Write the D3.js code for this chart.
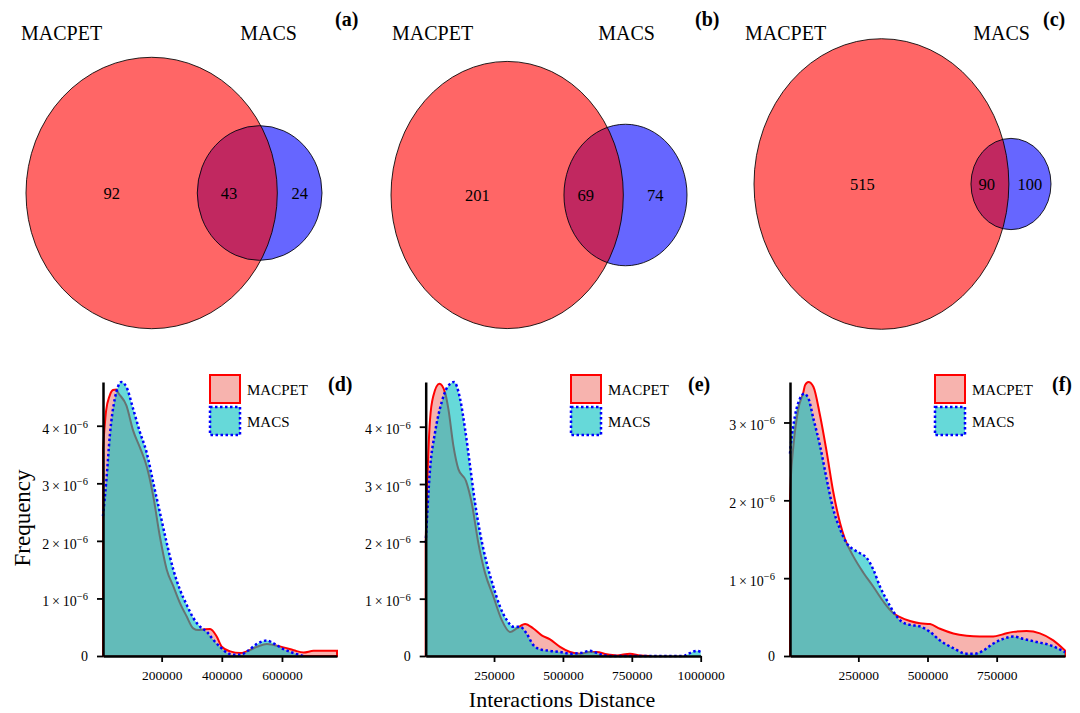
<!doctype html>
<html>
<head>
<meta charset="UTF-8">
<title>venn-kde</title>
<script src="https://d3js.org/d3.v7.min.js"></script>
<style>
    body{margin:0;background:#fff;}
    svg text{font-family:"Liberation Serif","Times New Roman",serif;fill:#000;}
</style>
</head>
<body>
<svg id="chart" width="1080" height="713"></svg>
<script>
// ---------- data ----------
var setNames = ["MACPET", "MACS"];
var tags = ["(a)", "(b)", "(c)", "(d)", "(e)", "(f)"];

// venn counts: [MACPET only, both, MACS only]
var vennA = [92, 43, 24];
var vennB = [201, 69, 74];
var vennC = [515, 90, 100];

// density curves: x = interaction distance (bp), y = frequency (x 1e-6)
var dMacpetX = [5000, 15000, 27000, 38000, 50000, 55000, 83000, 105000, 128000, 150000, 172000, 194000, 217000, 239000, 261000, 283000, 305000, 322000, 339000, 361000, 383000, 400000, 428000, 461000, 483000, 517000, 550000, 572000, 605000, 639000, 672000, 705000, 739000, 783000];
var dMacpetY = [3.60, 4.25, 4.52, 4.62, 4.63, 4.58, 4.35, 3.92, 3.62, 3.30, 2.78, 2.08, 1.50, 1.21, 0.92, 0.69, 0.48, 0.45, 0.46, 0.47, 0.34, 0.16, 0.08, 0.05, 0.08, 0.16, 0.21, 0.19, 0.15, 0.10, 0.06, 0.09, 0.09, 0.09];
var dMacsX = [5000, 16500, 27700, 44300, 66500, 83200, 105400, 127700, 149900, 172100, 194300, 216600, 238800, 261000, 283200, 305400, 327700, 350000, 372000, 394000, 416000, 439000, 461000, 489000, 517000, 550000, 572000, 605000, 639000, 672000];
var dMacsY = [2.43, 3.07, 3.83, 4.47, 4.76, 4.67, 4.29, 3.89, 3.54, 3.01, 2.49, 1.97, 1.50, 1.15, 0.89, 0.66, 0.51, 0.42, 0.28, 0.16, 0.06, 0.02, 0.02, 0.10, 0.21, 0.27, 0.22, 0.12, 0.05, 0.0];

var eMacpetX = [2000, 5700, 17800, 29900, 51700, 72200, 84300, 102400, 120600, 148400, 169000, 193100, 217300, 247600, 277800, 308100, 332300, 362500, 392700, 423000, 453200, 489500, 525800, 562000, 598300, 622500, 658800, 695100, 743400, 779700, 816000];
var eMacpetY = [2.0, 2.7, 4.13, 4.54, 4.75, 4.60, 4.31, 3.67, 3.26, 3.05, 2.67, 1.97, 1.45, 1.04, 0.63, 0.42, 0.48, 0.56, 0.48, 0.36, 0.29, 0.16, 0.07, 0.04, 0.07, 0.07, 0.03, 0.01, 0.04, 0.01, 0.0];
var eMacsX = [2000, 17800, 35900, 60100, 80700, 104900, 126600, 144800, 162900, 181100, 199200, 223400, 247600, 271800, 296000, 320100, 344300, 368500, 392700, 423000, 453200, 489500, 525800, 562000, 598300, 634700, 670900, 937000, 961000, 985300, 1000000];
var eMacsY = [1.97, 3.26, 3.90, 4.43, 4.69, 4.78, 4.49, 3.96, 3.32, 2.67, 2.15, 1.62, 1.21, 0.86, 0.63, 0.51, 0.51, 0.39, 0.19, 0.11, 0.09, 0.07, 0.04, 0.05, 0.09, 0.03, 0.0, 0.0, 0.05, 0.09, 0.07];

var fMacpetX = [3000, 5700, 15300, 33400, 51400, 57400, 69500, 87500, 111600, 135700, 159800, 183900, 201900, 232000, 268200, 304300, 340400, 376600, 400700, 436800, 472900, 509100, 545200, 593300, 641500, 689700, 737800, 774000, 810100, 858300, 906400, 954600, 997000];
var fMacpetY = [2.05, 2.27, 2.70, 3.18, 3.39, 3.48, 3.52, 3.46, 3.09, 2.62, 2.10, 1.71, 1.50, 1.28, 1.07, 0.89, 0.70, 0.55, 0.50, 0.45, 0.42, 0.41, 0.35, 0.29, 0.26, 0.25, 0.25, 0.28, 0.31, 0.32, 0.29, 0.20, 0.07];
var fMacsX = [3000, 5700, 21300, 39400, 53800, 69500, 87500, 111600, 135700, 159800, 183900, 207900, 232000, 256100, 280200, 304300, 328400, 352500, 376600, 406700, 436800, 472900, 509100, 545200, 593300, 641500, 671500, 701700, 737800, 774000, 810100, 846200, 894300, 942500, 997000];
var fMacsY = [2.6, 2.70, 3.09, 3.31, 3.37, 3.31, 3.05, 2.70, 2.27, 1.88, 1.63, 1.45, 1.37, 1.32, 1.26, 1.11, 0.89, 0.72, 0.57, 0.44, 0.40, 0.38, 0.31, 0.20, 0.10, 0.03, 0.03, 0.07, 0.16, 0.22, 0.25, 0.22, 0.18, 0.14, 0.05];

var xTicksD = [200000, 400000, 600000];
var xTicksE = [250000, 500000, 750000, 1000000];
var xTicksF = [250000, 500000, 750000];
var yTicksDE = [0, 1, 2, 3, 4];
var yTicksF = [0, 1, 2, 3];

// ---------- layout ----------
var svg = d3.select("#chart");

var vennBox = [
    {left: 26, width: 296, cy: 193, k: 1.08, labA: 21, labB: 297, tagX: 335},
    {left: 391, width: 296, cy: 195, k: 1.15, labA: 392, labB: 655, tagX: 695},
    {left: 754, width: 297, cy: 184, k: 1.14, labA: 745, labB: 1030, tagX: 1043}
];
var vennData = [vennA, vennB, vennC];

vennData.forEach(function(c, i){
    var box = vennBox[i];
    var onlyA = c[0], both = c[1], onlyB = c[2];
    var total = onlyA + both + onlyB;
    var x = d3.scaleLinear().domain([0, total]).range([box.left, box.left + box.width]);
    var unit = box.width / total;
    var y = d3.scaleLinear().domain([0, 1]).range([box.cy, box.cy - unit * box.k]);

    var rA = (onlyA + both) / 2, cA = rA;
    var rB = (both + onlyB) / 2, cB = onlyA + rB;
    var g = svg.append("g");

    var A = {cx: x(cA), cy: y(0), rx: x(rA) - x(0), ry: y(0) - y(rA)};
    var B = {cx: x(cB), cy: y(0), rx: x(rB) - x(0), ry: y(0) - y(rB)};

    g.append("clipPath").attr("id", "clipA" + i)
        .append("ellipse").attr("cx", A.cx).attr("cy", A.cy).attr("rx", A.rx).attr("ry", A.ry);

    g.append("ellipse").attr("cx", A.cx).attr("cy", A.cy).attr("rx", A.rx).attr("ry", A.ry)
        .attr("fill", "#ff6666");
    g.append("ellipse").attr("cx", B.cx).attr("cy", B.cy).attr("rx", B.rx).attr("ry", B.ry)
        .attr("fill", "#6666ff");
    g.append("ellipse").attr("cx", B.cx).attr("cy", B.cy).attr("rx", B.rx).attr("ry", B.ry)
        .attr("fill", "#c12860").attr("clip-path", "url(#clipA" + i + ")");
    [A, B].forEach(function(e){
        g.append("ellipse").attr("cx", e.cx).attr("cy", e.cy).attr("rx", e.rx).attr("ry", e.ry)
            .attr("fill", "none").attr("stroke", "#000").attr("stroke-width", 1).attr("stroke-opacity", 0.85);
    });

    // label positions
    var d = cB - cA;
    var chord = cA + (d * d + rA * rA - rB * rB) / (2 * d);
    var labs = [
        {v: onlyA, u: onlyA / 2},
        {v: both, u: (onlyA + chord) / 2},
        {v: onlyB, u: (onlyA + both + total) / 2}
    ];
    g.selectAll("text.num").data(labs).enter().append("text")
        .attr("class", "num")
        .attr("x", function(l){ return x(l.u); })
        .attr("y", box.cy + 6)
        .attr("text-anchor", "middle")
        .style("font-size", "16.5px")
        .text(function(l){ return l.v; });

    g.append("text").attr("x", box.labA).attr("y", 40).style("font-size", "20px").text(setNames[0]);
    g.append("text").attr("x", box.labB).attr("y", 40).attr("text-anchor", "end").style("font-size", "20px").text(setNames[1]);
    g.append("text").attr("x", box.tagX).attr("y", 26).style("font-size", "20px").style("font-weight", "bold").text(tags[i]);
});

// ---------- density panels ----------
var kdeBox = [
    {x0: 103, x1: 337, legX: 210, tagX: 328, xt: xTicksD, yt: yTicksDE,
     s1: [dMacpetX, dMacpetY], s2: [dMacsX, dMacsY]},
    {x0: 425.7, x1: 700.7, legX: 571, tagX: 688, xt: xTicksE, yt: yTicksDE,
     s1: [eMacpetX, eMacpetY], s2: [eMacsX, eMacsY]},
    {x0: 790, x1: 1065, legX: 935, tagX: 1052, xt: xTicksF, yt: yTicksF,
     s1: [fMacpetX, fMacpetY], s2: [fMacsX, fMacsY]}
];
var yBottom = 656, yTop = 382;

kdeBox.forEach(function(p, i){
    var g = svg.append("g");
    var pts1 = p.s1[0].map(function(v, j){ return [v, p.s1[1][j]]; });
    var pts2 = p.s2[0].map(function(v, j){ return [v, p.s2[1][j]]; });
    var allX = p.s1[0].concat(p.s2[0]);
    var allY = p.s1[1].concat(p.s2[1]);

    var x = d3.scaleLinear().domain(d3.extent(allX)).range([p.x0, p.x1]);
    var y = d3.scaleLinear().domain([0, d3.max(allY)]).range([yBottom, yTop]);

    var area = d3.area().curve(d3.curveMonotoneX)
        .x(function(d){ return x(d[0]); })
        .y0(y(0))
        .y1(function(d){ return y(d[1]); });
    var line = d3.line().curve(d3.curveMonotoneX)
        .x(function(d){ return x(d[0]); })
        .y(function(d){ return y(d[1]); });

    g.append("path").attr("d", area(pts1))
        .attr("fill", "#f7b3ae").attr("stroke", "#ff0000").attr("stroke-width", 2);
    g.append("path").attr("d", area(pts2))
        .attr("fill", "rgba(0,191,191,0.6)");
    g.append("path").attr("d", line(pts2))
        .attr("fill", "none").attr("stroke", "#0000ff").attr("stroke-width", 2.5)
        .attr("stroke-dasharray", "2.5,2.5");

    // axes
    var yAxis = d3.axisLeft(y).tickValues(p.yt).tickSize(6).tickSizeOuter(0).tickPadding(9);
    var xAxis = d3.axisBottom(x).tickValues(p.xt).tickSize(6).tickSizeOuter(0).tickPadding(8)
        .tickFormat(function(d){ return d; });

    var ga = g.append("g").attr("transform", "translate(" + p.x0 + ",0)").call(yAxis);
    ga.selectAll("text").each(function(d){
        var t = d3.select(this);
        t.text(null).attr("dy", null).style("font-size", "14px");
        if (d === 0) {
            t.attr("dy", "0.32em").text("0");
        } else {
            t.attr("dy", "0.52em").text(d + "\u2009\u00d7\u200910");
            t.append("tspan").attr("dy", "-0.55em").style("font-size", "10.5px").text("\u22126");
        }
    });
    var gb = g.append("g").attr("transform", "translate(0," + yBottom + ")").call(xAxis);
    gb.selectAll("text").style("font-size", "13.5px").attr("dy", "0.75em");

    [ga, gb].forEach(function(s){
        s.select(".domain").attr("stroke", "#000").attr("stroke-width", 2.5);
        s.selectAll(".tick line").attr("stroke", "#000").attr("stroke-width", 1.8);
        s.selectAll("text").style("fill", "#000");
    });

    // legend
    var lg = g.append("g");
    lg.append("rect").attr("x", p.legX).attr("y", 375).attr("width", 30).attr("height", 28)
        .attr("fill", "#f7b3ae").attr("stroke", "#ff0000").attr("stroke-width", 2);
    lg.append("rect").attr("x", p.legX).attr("y", 407).attr("width", 30).attr("height", 28)
        .attr("fill", "rgba(0,191,191,0.6)").attr("stroke", "#0000ff").attr("stroke-width", 2.5)
        .attr("stroke-dasharray", "2.5,2.5");
    lg.append("text").attr("x", p.legX + 37).attr("y", 395).style("font-size", "15px").text(setNames[0]);
    lg.append("text").attr("x", p.legX + 37).attr("y", 427).style("font-size", "15px").text(setNames[1]);

    g.append("text").attr("x", p.tagX).attr("y", 391).style("font-size", "20px").style("font-weight", "bold").text(tags[3 + i]);
});

svg.append("text").attr("transform", "translate(30,518) rotate(-90)")
    .attr("text-anchor", "middle").style("font-size", "23px").text("Frequency");
svg.append("text").attr("x", 562).attr("y", 707)
    .attr("text-anchor", "middle").style("font-size", "22px").text("Interactions Distance");
</script>
</body>
</html>
